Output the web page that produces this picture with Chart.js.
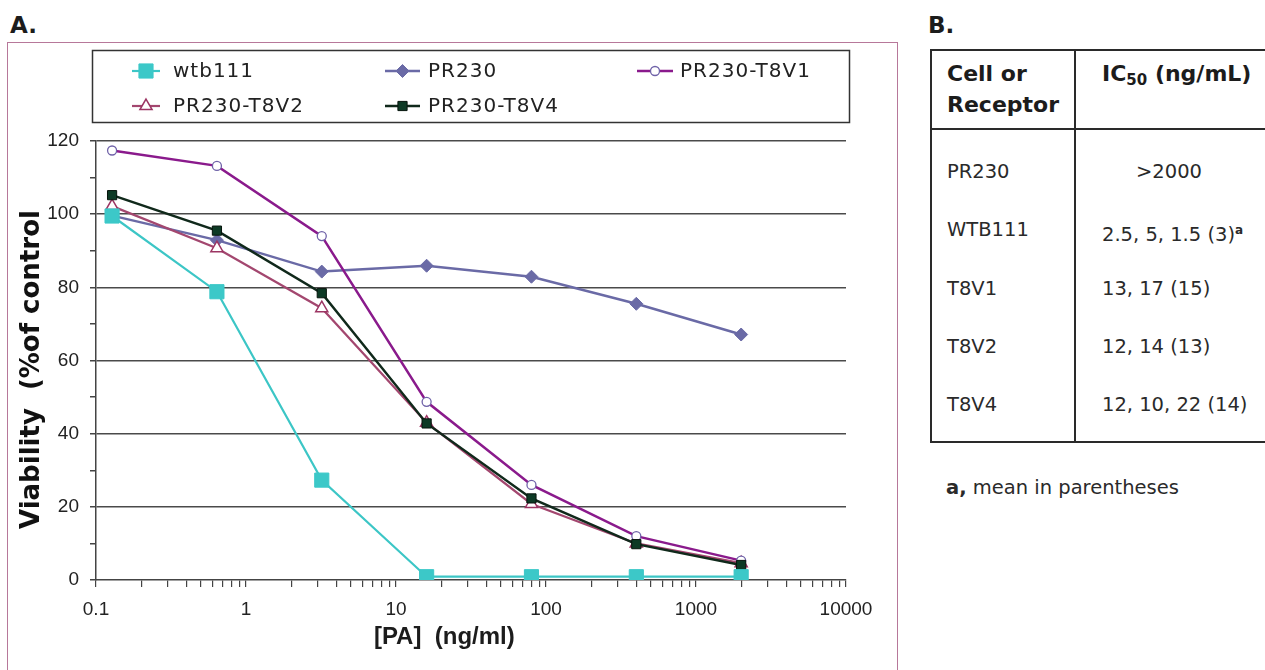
<!DOCTYPE html>
<html><head><meta charset="utf-8">
<script src="https://cdn.jsdelivr.net/npm/chart.js"></script>
<style>
html,body{margin:0;padding:0;background:#fff;width:1265px;height:670px;overflow:hidden;font-family:"DejaVu Sans",sans-serif;color:#1c1c1c}
.panel{position:absolute;font-weight:bold;font-size:23px;line-height:28px}
#frame{position:absolute;left:7px;top:42px;width:891px;height:660px;border:1.5px solid #b7789a;box-sizing:border-box}
#wrap{position:absolute;left:8px;top:43px;width:888px;height:627px}
#tbl{position:absolute;left:930px;top:49px;width:350px;height:394px;border:2px solid #2a2a2a;box-sizing:border-box}
#tbl .hl{position:absolute;left:0;right:0;top:77px;height:0;border-top:2px solid #2a2a2a}
#tbl .vl{position:absolute;top:0;bottom:0;left:142px;width:0;border-left:2px solid #2a2a2a}
#tbl .t{position:absolute;white-space:nowrap;line-height:30px}
#tbl .h{font-weight:bold;font-size:22px}
#tbl .b{font-size:19.5px;color:#2a2a2a}
sup.fa{font-size:12px;font-weight:bold;vertical-align:7px}
#foot{position:absolute;left:946px;top:474px;font-size:19.5px;line-height:28px;white-space:nowrap;color:#2a2a2a}
</style></head>
<body>
<div class="panel" style="left:10px;top:11px">A.</div>
<div class="panel" style="left:928px;top:11px">B.</div>
<div id="frame"></div>
<div id="wrap"><canvas id="c"></canvas></div>
<div id="tbl"><div class="hl"></div><div class="vl"></div></div>
<div id="foot"><b>a,</b> mean in parentheses</div>
<script>
// ---- data ----
const concentrations = [0.128, 0.64, 3.2, 16, 80, 400, 2000];
const wtb111 = [99.5, 78.8, 27.3, 0.9, 0.9, 0.9, 0.9];
const pr230 = [99.6, 92.9, 84.3, 85.9, 82.9, 75.5, 67.1];
const pr230T8V1 = [117.4, 113.2, 94.0, 48.7, 26.0, 12.0, 5.3];
const pr230T8V2 = [102.2, 90.7, 74.3, 43.0, 20.8, 10.0, 4.6];
const pr230T8V4 = [105.2, 95.5, 78.4, 42.8, 22.3, 9.8, 4.1];
const seriesNames = ['wtb111', 'PR230', 'PR230-T8V1', 'PR230-T8V2', 'PR230-T8V4'];
const xTickLabels = [0.1, 1, 10, 100, 1000, 10000];
const yTickLabels = [0, 20, 40, 60, 80, 100, 120];
const xTitle = '[PA]  (ng/ml)';
const yTitle = 'Viability  (%of control';
const tableRows = ['PR230', 'WTB111', 'T8V1', 'T8V2', 'T8V4'];
const tableValues = ['>2000', '2.5, 5, 1.5 (3)', '13, 17 (15)', '12, 14 (13)', '12, 10, 22 (14)'];
const tableNotes = ['', 'a', '', '', ''];

// ---- table ----
(function(){
  const tbl = document.getElementById('tbl');
  const add = (cls, html, left, top) => {
    const d = document.createElement('div');
    d.className = 't ' + cls; d.innerHTML = html;
    d.style.left = left + 'px'; d.style.top = top + 'px';
    tbl.appendChild(d);
  };
  add('h', 'Cell or', 15, 8);
  add('h', 'Receptor', 15, 39);
  add('h', 'IC<sub style="font-size:15px;vertical-align:-4px">50</sub> (ng/mL)', 170, 8);
  const centers = [121, 179, 238, 296, 354];
  tableRows.forEach((r, i) => {
    add('b', r, 15, centers[i] - 15);
    const v = tableValues[i] + (tableNotes[i] ? '<sup class="fa">' + tableNotes[i] + '</sup>' : '');
    add('b', v, i === 0 ? 204 : 170, centers[i] - 15);
  });
})();

// ---- chart ----
const seriesValues = [wtb111, pr230, pr230T8V1, pr230T8V2, pr230T8V4];
const styles = [
  {borderColor:'#3cc6c6', borderWidth:2.2, pointStyle:'rect', pointRadius:10, pointBackgroundColor:'#3cc8c8', pointBorderColor:'#3cc8c8', pointBorderWidth:1, order:0},
  {borderColor:'#6a6aa6', borderWidth:2.5, pointStyle:'rectRot', pointRadius:6.5, pointBackgroundColor:'#6a6aa6', pointBorderColor:'#6a6aa6', pointBorderWidth:1, order:4},
  {borderColor:'#8a1a8c', borderWidth:2.5, pointStyle:'circle', pointRadius:4.5, pointBackgroundColor:'#ffffff', pointBorderColor:'#6f62a8', pointBorderWidth:1.3, order:2},
  {borderColor:'#a3476f', borderWidth:2.2, pointStyle:'triangle', pointRadius:7, pointBackgroundColor:'#ffffff', pointBorderColor:'#9c3563', pointBorderWidth:1.5, order:3},
  {borderColor:'#10291b', borderWidth:2.5, pointStyle:'rect', pointRadius:6.5, pointBackgroundColor:'#0d3a25', pointBorderColor:'#07150d', pointBorderWidth:1, order:1}
];
const datasets = seriesNames.map((name, i) => Object.assign({
  label: name,
  data: concentrations.map((x, j) => ({x: x, y: seriesValues[i][j]})),
  tension: 0, fill: false, pointHoverRadius: 0
}, styles[i]));

function drawMarker(ctx, style, x, y, r, fill, stroke, lw) {
  ctx.save();
  ctx.beginPath();
  if (style === 'rect') {
    const s = Math.SQRT1_2 * r;
    ctx.rect(x - s, y - s, 2 * s, 2 * s);
  } else if (style === 'rectRot') {
    ctx.moveTo(x - r, y); ctx.lineTo(x, y - r); ctx.lineTo(x + r, y); ctx.lineTo(x, y + r); ctx.closePath();
  } else if (style === 'circle') {
    ctx.arc(x, y, r, 0, Math.PI * 2);
  } else if (style === 'triangle') {
    let a = 0;
    ctx.moveTo(x + Math.sin(a) * r, y - Math.cos(a) * r);
    a += 2 * Math.PI / 3; ctx.lineTo(x + Math.sin(a) * r, y - Math.cos(a) * r);
    a += 2 * Math.PI / 3; ctx.lineTo(x + Math.sin(a) * r, y - Math.cos(a) * r);
    ctx.closePath();
  }
  ctx.fillStyle = fill; ctx.fill();
  ctx.strokeStyle = stroke; ctx.lineWidth = lw; ctx.stroke();
  ctx.restore();
}

const legendSlots = [
  {x0:124, x1:152, tx:165, y:28},
  {x0:377, x1:412, tx:420, y:28},
  {x0:629, x1:665, tx:672, y:28},
  {x0:124, x1:152, tx:165, y:63},
  {x0:377, x1:412, tx:420, y:63}
];
const boxLegend = {
  id: 'boxLegend',
  afterDraw(chart) {
    const ctx = chart.ctx;
    ctx.save();
    ctx.strokeStyle = '#333'; ctx.lineWidth = 1.5;
    ctx.strokeRect(84.5, 7.5, 757, 72);
    chart.data.datasets.forEach((ds, i) => {
      const s = legendSlots[i];
      ctx.strokeStyle = ds.borderColor; ctx.lineWidth = ds.borderWidth;
      ctx.beginPath(); ctx.moveTo(s.x0, s.y); ctx.lineTo(s.x1, s.y); ctx.stroke();
      drawMarker(ctx, ds.pointStyle, (s.x0 + s.x1) / 2, s.y, ds.pointRadius, ds.pointBackgroundColor, ds.pointBorderColor, ds.pointBorderWidth);
      ctx.fillStyle = '#222';
      ctx.font = '20px "DejaVu Sans"';
      try { ctx.letterSpacing = '1px'; } catch (e) {}
      ctx.textBaseline = 'middle'; ctx.textAlign = 'left';
      ctx.fillText(ds.label, s.tx, s.y + 1);
    });
    ctx.restore();
  }
};

function logTicks() {
  const out = [];
  const lo = Math.log10(xTickLabels[0]), hi = Math.log10(xTickLabels[xTickLabels.length - 1]);
  for (let e = lo; e < hi; e++) {
    for (let m = 1; m <= 9; m++) out.push({value: Number((m * Math.pow(10, e)).toPrecision(6)), major: m === 1});
  }
  out.push({value: xTickLabels[xTickLabels.length - 1], major: true});
  return out;
}

const NB = '\u00a0';
new Chart(document.getElementById('c'), {
  type: 'line',
  data: {datasets: datasets},
  options: {
    responsive: true, maintainAspectRatio: false, animation: false,
    layout: {padding: {top: 98, right: 50, left: 0, bottom: 0}},
    plugins: {legend: {display: false}, tooltip: {enabled: false}},
    events: [],
    scales: {
      x: {
        type: 'logarithmic', min: xTickLabels[0], max: xTickLabels[xTickLabels.length - 1],
        afterBuildTicks: (scale) => { scale.ticks = logTicks(); },
        afterFit: (scale) => { scale.height = 90; },
        grid: {drawOnChartArea: false, drawTicks: true, tickLength: 7, color: '#444', lineWidth: 1.2},
        border: {display: true, color: '#444', width: 1.5},
        ticks: {
          autoSkip: false, maxRotation: 0, minRotation: 0, padding: 11, color: '#222',
          font: {family: 'Liberation Sans', size: 19},
          callback: (v) => {
            const hit = xTickLabels.find(t => Math.abs(t - v) / t < 1e-6);
            return hit === undefined ? '' : String(hit);
          }
        },
        title: {display: true, text: xTitle + NB.repeat(8), color: '#1c1c1c', font: {family: 'Liberation Sans', size: 24, weight: 'bold'}, padding: {top: 0, bottom: 18}}
      },
      y: {
        min: yTickLabels[0], max: yTickLabels[yTickLabels.length - 1],
        afterFit: (scale) => { scale.width = 88; },
        grid: {
          drawTicks: true, tickLength: 6, lineWidth: 1.5, tickColor: '#444',
          color: (c) => (c.tick && c.tick.value % 20 === 0 && c.tick.value !== 0) ? '#4a4a4a' : 'rgba(0,0,0,0)'
        },
        border: {display: true, color: '#444', width: 1.5},
        ticks: {
          stepSize: 10, padding: 11, color: '#222', autoSkip: false,
          font: {family: 'Liberation Sans', size: 19},
          callback: (v) => yTickLabels.includes(v) ? String(v) : ''
        },
        title: {display: true, text: yTitle + NB.repeat(2), color: '#111', font: {family: 'DejaVu Sans', size: 26, weight: 'bold'}, padding: {top: 9, bottom: 0}}
      }
    }
  },
  plugins: [boxLegend]
});
</script>
</body></html>
